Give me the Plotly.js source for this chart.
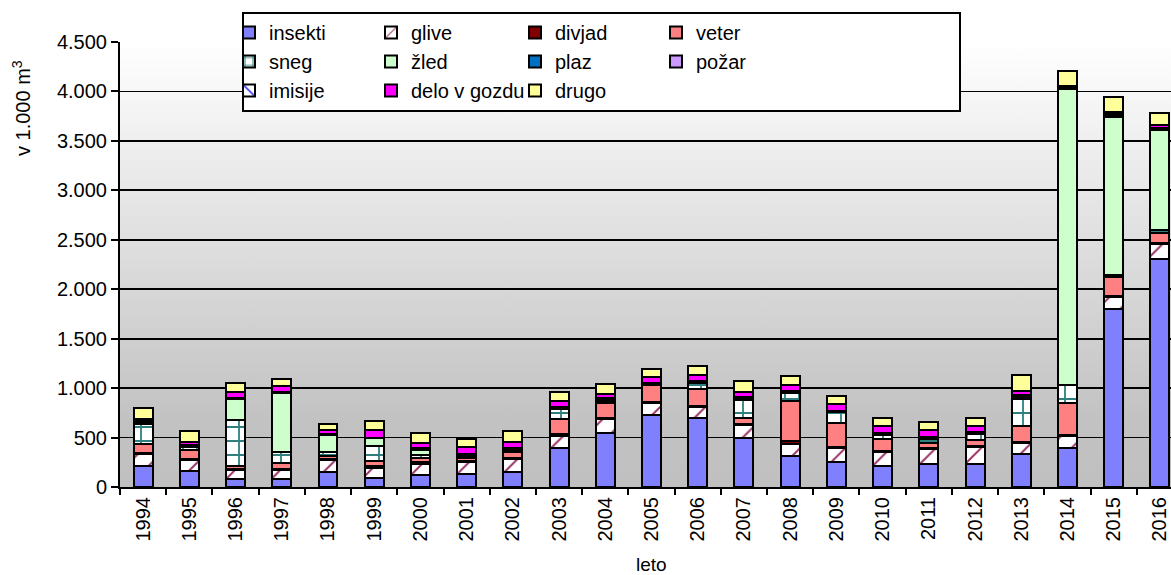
<!DOCTYPE html>
<html>
<head>
<meta charset="utf-8">
<script src="https://cdn.plot.ly/plotly-3.0.1.min.js"></script>
<style>
html,body{margin:0;padding:0;overflow:hidden;background:#fff;}
#chart{width:1185px;height:575px;}
</style>
</head>
<body>
<div id="chart"></div>
<script>
const years = ['1994','1995','1996','1997','1998','1999','2000','2001','2002','2003','2004','2005','2006','2007','2008','2009','2010','2011','2012','2013','2014','2015','2016'];
const insekti = [217,160,77,77,155,95,117,133,153,393,550,733,693,493,317,250,217,237,233,337,390,1805,2310];
const glive   = [120,115,100,95,120,100,120,120,130,124,135,115,120,135,116,140,135,150,170,113,130,120,150];
const divjad  = [5,5,5,15,5,15,13,10,7,15,10,8,5,10,30,10,15,10,10,10,5,5,5];
const veter   = [95,90,35,60,30,50,43,30,60,160,150,172,175,55,405,245,120,50,65,155,320,195,105];
const sneg    = [200,30,460,110,40,155,34,10,15,95,25,10,60,185,85,110,40,40,55,278,190,20,25];
const zled    = [5,0,215,590,180,80,50,5,10,5,15,5,5,20,5,5,8,5,5,15,2990,1600,1020];
const plaz    = [5,0,5,5,5,0,8,10,10,5,5,5,8,5,5,5,5,5,5,5,10,10,5];
const pozar   = [0,0,0,0,0,0,0,5,0,0,0,0,0,0,0,0,0,0,0,5,5,5,5];
const imisije = [25,20,5,5,5,5,8,10,8,8,5,5,8,10,10,8,10,8,10,15,10,15,10];
const delo    = [15,40,60,60,40,80,57,75,65,65,45,55,60,45,55,70,65,70,65,42,10,15,30];
const drugo   = [110,110,90,80,60,85,93,80,105,90,105,90,85,115,90,80,85,85,80,155,150,150,115];

const xTitle = 'leto';
const yTitle = 'v 1.000 m<sup>3</sup>';

const FONT = 'Liberation Sans, Arial, sans-serif';
const W = 1185, H = 575;
const M = {l:120, r:2, t:42, b:88, autoexpand: false};
const PW = W - M.l - M.r, PH = H - M.t - M.b;

function bar(name, y, color, legend, pattern) {
  const marker = {color: color, line: {color: '#000', width: 2}};
  if (pattern) marker.pattern = pattern;
  return {type: 'bar', name: name, x: years, y: y, marker: marker, legend: legend, hoverinfo: 'name+y'};
}

const traces = [
  bar('insekti', insekti, '#8080FF', 'legend'),
  bar('glive', glive, '#FFFFFF', 'legend2', {shape: '/', fgcolor: '#993366', bgcolor: '#FFFFFF', size: 16, solidity: 0.12}),
  bar('divjad', divjad, '#800000', 'legend3'),
  bar('veter', veter, '#FF8080', 'legend4'),
  bar('sneg', sneg, '#FFFFFF', 'legend', {shape: '+', fgcolor: '#2F7F7F', bgcolor: '#FFFFFF', size: 14, solidity: 0.24}),
  bar('žled', zled, '#CCFFCC', 'legend2'),
  bar('plaz', plaz, '#0070C0', 'legend3'),
  bar('požar', pozar, '#CC99FF', 'legend4'),
  bar('imisije', imisije, '#FFFFFF', 'legend', {shape: '\\', fgcolor: '#3333FF', bgcolor: '#FFFFFF', size: 10, solidity: 0.2}),
  bar('delo v gozdu', delo, '#FF00FF', 'legend2'),
  bar('drugo', drugo, '#FFFF99', 'legend3')
];

const grad = '<svg xmlns="http://www.w3.org/2000/svg" width="100" height="100" viewBox="0 0 100 100" preserveAspectRatio="none">' +
  '<defs><linearGradient id="g" x1="0" y1="0" x2="0" y2="1">' +
  '<stop offset="0" stop-color="#FFFFFF"/><stop offset="0.85" stop-color="#C2C2C2"/><stop offset="1" stop-color="#C0C0C0"/>' +
  '</linearGradient></defs><rect x="0" y="0" width="100" height="100" fill="url(#g)"/></svg>';

function legendAt(px, py) {
  return {x: px / W, y: 1 - py / H, xref: 'container', yref: 'container', xanchor: 'left', yanchor: 'top',
    bgcolor: 'rgba(0,0,0,0)', borderwidth: 0, font: {family: FONT, size: 20, color: '#000'},
    traceorder: 'normal', itemclick: false, itemdoubleclick: false};
}

const box = {x0: 243, x1: 960, y0: 13, y1: 111};
const px2x = p => (p - M.l) / PW;
const px2y = p => (H - M.b - p) / PH;

const layout = {
  width: W, height: H,
  margin: M,
  barmode: 'stack',
  bargap: 0.59,
  separators: ',.',
  paper_bgcolor: '#FFFFFF',
  plot_bgcolor: 'rgba(0,0,0,0)',
  font: {family: FONT, color: '#000'},
  images: [{source: 'data:image/svg+xml;charset=utf-8,' + encodeURIComponent(grad),
    xref: 'paper', yref: 'paper', x: 0, y: 1, sizex: 1, sizey: 1, sizing: 'stretch',
    xanchor: 'left', yanchor: 'top', layer: 'below'}],
  xaxis: {
    type: 'category', range: [-0.5, 22.5], tickson: 'boundaries', automargin: false,
    ticks: 'outside', ticklen: 6, tickwidth: 2, tickcolor: '#000',
    showline: true, linewidth: 2, linecolor: '#000', showgrid: false, zeroline: false,
    tickangle: -90, tickfont: {family: FONT, size: 20, color: '#000'}
  },
  yaxis: {
    range: [0, 4500], dtick: 500, tick0: 0, tickformat: ',d', automargin: false,
    ticks: 'outside', ticklen: 7, tickwidth: 2, tickcolor: '#000',
    showline: true, linewidth: 2, linecolor: '#000',
    showgrid: true, gridcolor: '#000', gridwidth: 1.8, zeroline: false,
    tickfont: {family: FONT, size: 20, color: '#000'}
  },
  annotations: [
    {text: xTitle, xref: 'paper', yref: 'paper', x: px2x(651), y: px2y(564), xanchor: 'center', yanchor: 'middle',
     showarrow: false, font: {family: FONT, size: 19, color: '#000'}},
    {text: yTitle, xref: 'paper', yref: 'paper', x: px2x(21), y: px2y(108), xanchor: 'center', yanchor: 'middle',
     textangle: -90, showarrow: false, font: {family: FONT, size: 20, color: '#000'}}
  ],
  shapes: [{type: 'rect', xref: 'paper', yref: 'paper', layer: 'above',
    x0: px2x(box.x0), x1: px2x(box.x1), y0: px2y(box.y1), y1: px2y(box.y0),
    fillcolor: '#FFFFFF', line: {color: '#000', width: 2}}],
  legend: legendAt(229, 13),
  legend2: legendAt(371, 13),
  legend3: legendAt(515, 13),
  legend4: legendAt(656, 13),
  showlegend: true
};

Plotly.newPlot('chart', traces, layout, {displayModeBar: false, staticPlot: true});
</script>
</body>
</html>
